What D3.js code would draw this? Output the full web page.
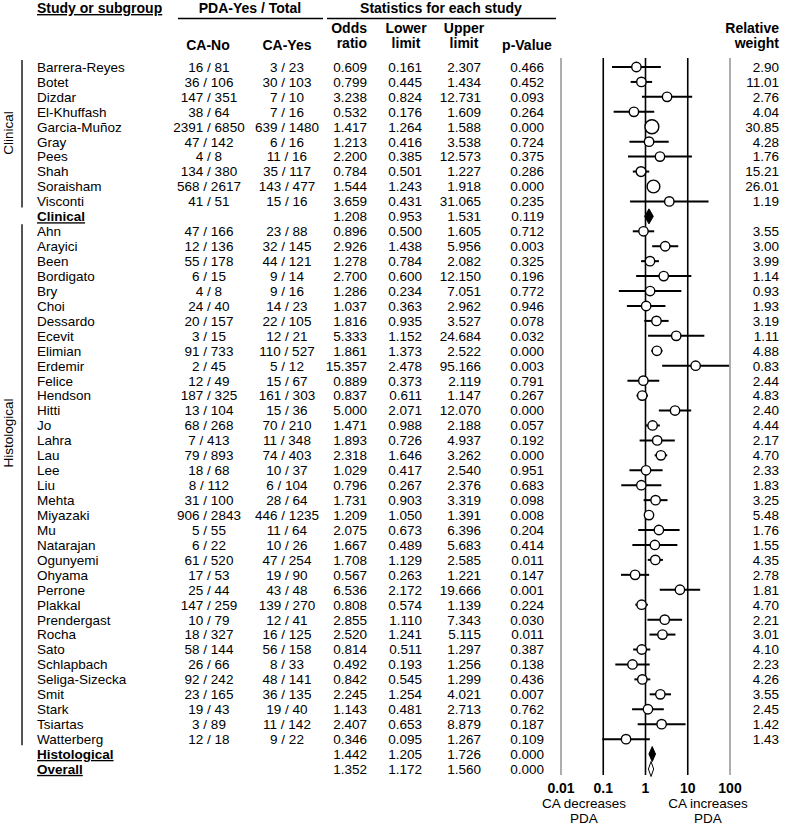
<!DOCTYPE html>
<html><head><meta charset="utf-8">
<script src="https://cdn.jsdelivr.net/npm/d3@7"></script>
<style>body{margin:0;background:#fff}svg{display:block}text{font-family:Arial,"Liberation Sans",sans-serif;}</style>
</head><body>
<svg id="c" width="787" height="826"></svg>
<script>
const studies = ["Barrera-Reyes","Botet","Dizdar","El-Khuffash","Garcia-Muñoz","Gray","Pees","Shah","Soraisham","Visconti","Clinical",
"Ahn","Arayici","Been","Bordigato","Bry","Choi","Dessardo","Ecevit","Elimian","Erdemir","Felice","Hendson","Hitti","Jo","Lahra","Lau","Lee","Liu","Mehta","Miyazaki","Mu","Natarajan","Ogunyemi","Ohyama","Perrone","Plakkal","Prendergast","Rocha","Sato","Schlapbach","Seliga-Sizecka","Smit","Stark","Tsiartas","Watterberg","Histological","Overall"];
const rowType = ["s","s","s","s","s","s","s","s","s","s","sum",
"s","s","s","s","s","s","s","s","s","s","s","s","s","s","s","s","s","s","s","s","s","s","s","s","s","s","s","s","s","s","s","s","s","s","s","sum","overall"];
const caNoPDA   = [16,36,147,38,2391,47,4,134,568,41,null,47,12,55,6,4,24,20,3,91,2,12,187,13,68,7,79,18,8,31,906,5,6,61,17,25,147,10,18,58,26,92,23,19,3,12,null,null];
const caNoTotal = [81,106,351,64,6850,142,8,380,2617,51,null,166,136,178,15,8,40,157,15,733,45,49,325,104,268,413,893,68,112,100,2843,55,22,520,53,44,259,79,327,144,66,242,165,43,89,18,null,null];
const caYesPDA  = [3,30,7,7,639,6,11,35,143,15,null,23,32,44,9,9,14,22,12,110,5,15,161,15,70,11,74,10,6,28,446,11,10,47,19,43,139,12,16,56,8,48,36,19,11,9,null,null];
const caYesTotal= [23,103,10,16,1480,16,16,117,477,16,null,88,145,121,14,16,23,105,21,527,12,67,303,36,210,348,403,37,104,64,1235,64,26,254,90,48,270,41,125,158,33,141,135,40,142,22,null,null];
const oddsRatio = [0.609,0.799,3.238,0.532,1.417,1.213,2.200,0.784,1.544,3.659,1.208,0.896,2.926,1.278,2.700,1.286,1.037,1.816,5.333,1.861,15.357,0.889,0.837,5.000,1.471,1.893,2.318,1.029,0.796,1.731,1.209,2.075,1.667,1.708,0.567,6.536,0.808,2.855,2.520,0.814,0.492,0.842,2.245,1.143,2.407,0.346,1.442,1.352];
const lowerLimit= [0.161,0.445,0.824,0.176,1.264,0.416,0.385,0.501,1.243,0.431,0.953,0.500,1.438,0.784,0.600,0.234,0.363,0.935,1.152,1.373,2.478,0.373,0.611,2.071,0.988,0.726,1.646,0.417,0.267,0.903,1.050,0.673,0.489,1.129,0.263,2.172,0.574,1.110,1.241,0.511,0.193,0.545,1.254,0.481,0.653,0.095,1.205,1.172];
const upperLimit= [2.307,1.434,12.731,1.609,1.588,3.538,12.573,1.227,1.918,31.065,1.531,1.605,5.956,2.082,12.150,7.051,2.962,3.527,24.684,2.522,95.166,2.119,1.147,12.070,2.188,4.937,3.262,2.540,2.376,3.319,1.391,6.396,5.683,2.585,1.221,19.666,1.139,7.343,5.115,1.297,1.256,1.299,4.021,2.713,8.879,1.267,1.726,1.560];
const pValue    = [0.466,0.452,0.093,0.264,0.000,0.724,0.375,0.286,0.000,0.235,0.119,0.712,0.003,0.325,0.196,0.772,0.946,0.078,0.032,0.000,0.003,0.791,0.267,0.000,0.057,0.192,0.000,0.951,0.683,0.098,0.008,0.204,0.414,0.011,0.147,0.001,0.224,0.030,0.011,0.387,0.138,0.436,0.007,0.762,0.187,0.109,0.000,0.000];
const relWeight = [2.90,11.01,2.76,4.04,30.85,4.28,1.76,15.21,26.01,1.19,null,3.55,3.00,3.99,1.14,0.93,1.93,3.19,1.11,4.88,0.83,2.44,4.83,2.40,4.44,2.17,4.70,2.33,1.83,3.25,5.48,1.76,1.55,4.35,2.78,1.81,4.70,2.21,3.01,4.10,2.23,4.26,3.55,2.45,1.42,1.43,null,null];
const tickValues = [0.01,0.1,1,10,100];
const tickLabels = ["0.01","0.1","1","10","100"];
const subgroups = [{name:"Clinical", first:0, last:9, labelY:133},{name:"Histological", first:11, last:45, labelY:433}];

const svg = d3.select("#c");
const FS = 13.5, HS = 14;
const x = d3.scaleLog().domain([0.01,100]).range([561,730]);
const y = d3.scaleLinear().domain([0,47]).range([67,769]);
const f3 = d3.format(".3f"), f2 = d3.format(".2f");

function txt(xx, yy, s, opts={}) {
  const t = svg.append("text").attr("x", xx).attr("y", yy).text(s)
    .attr("font-size", opts.size||FS).attr("text-anchor", opts.anchor||"start")
    .attr("font-weight", opts.bold?"bold":"normal").attr("fill", "#000");
  if (opts.underline) t.attr("text-decoration","underline");
  return t;
}
// headers
txt(37,13,"Study or subgroup",{bold:true,underline:true,size:HS});
txt(250,13,"PDA-Yes / Total",{bold:true,anchor:"middle",size:HS});
txt(441,13,"Statistics for each study",{bold:true,anchor:"middle",size:HS});
svg.append("line").attr("x1",178).attr("x2",323).attr("y1",18.5).attr("y2",18.5).attr("stroke","#000").attr("stroke-width",1.3);
svg.append("line").attr("x1",327).attr("x2",556).attr("y1",18.5).attr("y2",18.5).attr("stroke","#000").attr("stroke-width",1.3);
txt(208,50,"CA-No",{bold:true,anchor:"middle",size:HS});
txt(287,50,"CA-Yes",{bold:true,anchor:"middle",size:HS});
txt(367,33,"Odds",{bold:true,anchor:"end",size:HS});
txt(367,48,"ratio",{bold:true,anchor:"end",size:HS});
txt(406,33,"Lower",{bold:true,anchor:"middle",size:HS});
txt(406,48,"limit",{bold:true,anchor:"middle",size:HS});
txt(464,33,"Upper",{bold:true,anchor:"middle",size:HS});
txt(464,48,"limit",{bold:true,anchor:"middle",size:HS});
txt(527,50,"p-Value",{bold:true,anchor:"middle",size:HS});
txt(779,33,"Relative",{bold:true,anchor:"end",size:HS});
txt(779,48,"weight",{bold:true,anchor:"end",size:HS});

// reference lines
const lineTop = 58, lineBot = 775;
svg.append("g").selectAll("line").data(tickValues).join("line")
  .attr("x1",d=>x(d)).attr("x2",d=>x(d)).attr("y1",lineTop).attr("y2",lineBot)
  .attr("stroke",(d,i)=> (i===0||i===4)?"#999":"#000").attr("stroke-width",1.6);

// tick labels
svg.append("g").selectAll("text").data(tickValues).join("text")
  .attr("x",d=>x(d)).attr("y",793).attr("text-anchor","middle").attr("font-size",HS).attr("font-weight","bold")
  .text((d,i)=>tickLabels[i]);
txt(584,808,"CA decreases",{anchor:"middle"});
txt(584,823,"PDA",{anchor:"middle"});
txt(708,808,"CA increases",{anchor:"middle"});
txt(708,823,"PDA",{anchor:"middle"});

// subgroup bars and labels
subgroups.forEach(g=>{
  const y1 = y(g.first)-7, y2 = y(g.last)+6;
  svg.append("line").attr("x1",22).attr("x2",22).attr("y1",y1).attr("y2",y2).attr("stroke","#555").attr("stroke-width",2);
  svg.append("text").attr("transform",`translate(13,${g.labelY}) rotate(-90)`).attr("text-anchor","middle")
    .attr("font-size",FS).text(g.name);
});

// rows
const rows = studies.map((s,i)=>({i, s, type:rowType[i]}));
const rg = svg.append("g").selectAll("g").data(rows).join("g").attr("transform",d=>`translate(0,${y(d.i)})`);
rg.append("text").attr("x",37).attr("dy","0.36em").attr("font-size",FS)
  .attr("font-weight",d=>d.type==="s"?"normal":"bold")
  .attr("text-decoration",d=>d.type==="s"?null:"underline").text(d=>d.s);
rg.filter(d=>d.type==="s").append("text").attr("x",209).attr("dy","0.36em").attr("font-size",FS).attr("text-anchor","middle")
  .text(d=>`${caNoPDA[d.i]} / ${caNoTotal[d.i]}`);
rg.filter(d=>d.type==="s").append("text").attr("x",287).attr("dy","0.36em").attr("font-size",FS).attr("text-anchor","middle")
  .text(d=>`${caYesPDA[d.i]} / ${caYesTotal[d.i]}`);
rg.append("text").attr("x",367).attr("dy","0.36em").attr("font-size",FS).attr("text-anchor","end").text(d=>f3(oddsRatio[d.i]));
rg.append("text").attr("x",422).attr("dy","0.36em").attr("font-size",FS).attr("text-anchor","end").text(d=>f3(lowerLimit[d.i]));
rg.append("text").attr("x",481).attr("dy","0.36em").attr("font-size",FS).attr("text-anchor","end").text(d=>f3(upperLimit[d.i]));
rg.append("text").attr("x",544).attr("dy","0.36em").attr("font-size",FS).attr("text-anchor","end").text(d=>f3(pValue[d.i]));
rg.filter(d=>relWeight[d.i]!=null).append("text").attr("x",779).attr("dy","0.36em").attr("font-size",FS).attr("text-anchor","end").text(d=>f2(relWeight[d.i]));

// CI lines and markers
const st = rg.filter(d=>d.type==="s");
st.append("line").attr("x1",d=>x(lowerLimit[d.i])).attr("x2",d=>x(upperLimit[d.i])).attr("y1",0).attr("y2",0)
  .attr("stroke","#000").attr("stroke-width",2);
st.append("circle").attr("cx",d=>x(oddsRatio[d.i])).attr("cy",0)
  .attr("r",d=>Math.max(4.7,1.25*Math.sqrt(relWeight[d.i])))
  .attr("fill","#fff").attr("stroke","#000").attr("stroke-width",1.4);
rg.filter(d=>d.type!=="s").append("path")
  .attr("d",d=>{const l=x(lowerLimit[d.i]), u=x(upperLimit[d.i]), m=x(oddsRatio[d.i]); return `M${l},0L${m},-7.5L${u},0L${m},7.5Z`;})
  .attr("fill",d=>d.type==="sum"?"#000":"#fff").attr("stroke","#000").attr("stroke-width",1);
</script>
</body></html>
